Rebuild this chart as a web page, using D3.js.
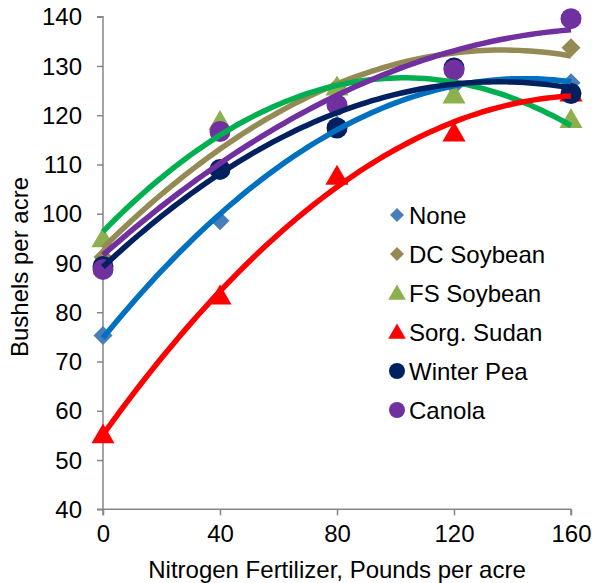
<!DOCTYPE html>
<html>
<head>
<meta charset="utf-8">
<script src="https://cdn.jsdelivr.net/npm/d3@7"></script>
<style>
html,body{margin:0;padding:0;background:#fff;}
svg{display:block;font-family:"Liberation Sans",Arial,sans-serif;}
</style>
</head>
<body>
<svg id="chart" width="592" height="583"></svg>
<script>
// ---- data ----
const nitrogen = [0, 40, 80, 120, 160];
const seriesNames = ["None", "DC Soybean", "FS Soybean", "Sorg. Sudan", "Winter Pea", "Canola"];
const noneVals       = [75.3, 98.6, 118.0, 126.0, 126.6];
const dcSoybeanVals  = [91.2, 117.0, 125.8, 129.5, 133.7];
const fsSoybeanVals  = [95.0, 118.8, 125.8, 124.2, 119.2];
const sorgSudanVals  = [55.2, 83.4, 107.7, 116.5, 124.6];
const winterPeaVals  = [89.3, 109.0, 117.4, 129.6, 124.4];
const canolaVals     = [88.7, 116.7, 122.1, 129.2, 139.6];
const yTicks = [40, 50, 60, 70, 80, 90, 100, 110, 120, 130, 140];
const xTicks = [0, 40, 80, 120, 160];

// ---- styles ----
const markerColors = ["#4A7EBB", "#948A54", "#8DB04F", "#FF0000", "#002060", "#7030A0"];
const lineColors   = ["#0070C0", "#948A54", "#00B050", "#FF0000", "#002060", "#7030A0"];
const markerShapes = ["diamond", "diamond", "triangle", "triangle", "circle", "circle"];
const allVals = [noneVals, dcSoybeanVals, fsSoybeanVals, sorgSudanVals, winterPeaVals, canolaVals];

const series = seriesNames.map((n, i) => ({
  name: n, values: allVals[i], mc: markerColors[i], lc: lineColors[i], shape: markerShapes[i]
}));

const svg = d3.select("#chart");
const x = d3.scaleLinear().domain([0, 160]).range([103, 571]);
const y = d3.scaleLinear().domain([40, 140]).range([509.3, 16.7]);
const FS = 24;

// axes
const yAxis = d3.axisLeft(y).tickValues(yTicks).tickSize(6).tickPadding(15).tickFormat(d3.format("d"));
const xAxis = d3.axisBottom(x).tickValues(xTicks).tickSize(6).tickPadding(10).tickFormat(d3.format("d"));
const gy = svg.append("g").attr("transform", `translate(${x(0)},0)`).call(yAxis);
const gx = svg.append("g").attr("transform", `translate(0,${y(40)})`).call(xAxis);
[gx, gy].forEach(g => {
  g.select(".domain").attr("stroke", "#868686").attr("stroke-width", 1.5);
  g.selectAll(".tick line").attr("stroke", "#868686").attr("stroke-width", 1.5);
  g.selectAll(".tick text").attr("fill", "#000").style("font-size", FS + "px").style("font-family", "Liberation Sans, Arial, sans-serif");
});
gy.selectAll(".tick text").attr("x", -21).attr("dy", "0.34em");
gx.selectAll(".tick text").attr("y", 16).attr("dy", "0.71em");
gy.select(".domain").attr("d", `M-6,${y(140)}H0V${y(40)}H-6`);
gx.select(".domain").attr("d", `M${x(0)},6V0H${x(160)}V6`);

// axis titles
svg.append("text").attr("x", 337).attr("y", 578).attr("text-anchor", "middle")
  .style("font-size", FS + "px").text("Nitrogen Fertilizer, Pounds per acre");
svg.append("text").attr("transform", "translate(28,267) rotate(-90)").attr("text-anchor", "middle")
  .style("font-size", FS + "px").text("Bushels per acre");

// marker generator
function markerPath(shape, s) {
  if (shape === "diamond") return `M0,${-s}L${s},0L0,${s}L${-s},0Z`;
  if (shape === "triangle") return `M0,${-s*1.05}L${s*1.1},${s*0.85}L${-s*1.1},${s*0.85}Z`;
  return d3.arc()({innerRadius: 0, outerRadius: s, startAngle: 0, endAngle: 2 * Math.PI});
}
const sizes = {diamond: 9.5, triangle: 10.5, circle: 10.5};

// markers
series.forEach(s => {
  svg.append("g").selectAll("path").data(nitrogen.map((n, i) => [n, s.values[i]])).join("path")
    .attr("transform", d => `translate(${x(d[0])},${y(d[1])})`)
    .attr("d", markerPath(s.shape, sizes[s.shape]))
    .attr("fill", s.mc);
});

// quadratic trendlines (least squares fit of each series)
function quadFit(xs, ys) {
  const n = xs.length;
  let S = [0,0,0,0,0], T = [0,0,0];
  for (let i = 0; i < n; i++) {
    const xi = xs[i];
    for (let k = 0; k < 5; k++) S[k] += Math.pow(xi, k);
    for (let k = 0; k < 3; k++) T[k] += ys[i] * Math.pow(xi, k);
  }
  const A = [[S[0],S[1],S[2],T[0]],[S[1],S[2],S[3],T[1]],[S[2],S[3],S[4],T[2]]];
  for (let i = 0; i < 3; i++) {
    for (let j = i + 1; j < 3; j++) {
      const f = A[j][i] / A[i][i];
      for (let k = i; k < 4; k++) A[j][k] -= f * A[i][k];
    }
  }
  const c = [0,0,0];
  for (let i = 2; i >= 0; i--) {
    let s = A[i][3];
    for (let k = i + 1; k < 3; k++) s -= A[i][k] * c[k];
    c[i] = s / A[i][i];
  }
  return t => c[0] + c[1] * t + c[2] * t * t;
}
const line = d3.line().x(d => x(d[0])).y(d => y(d[1])).curve(d3.curveLinear);
const samples = d3.range(0, 160.01, 2);
series.forEach(s => {
  const f = quadFit(nitrogen, s.values);
  svg.append("path").attr("d", line(samples.map(t => [t, f(t)])))
    .attr("fill", "none").attr("stroke", s.lc).attr("stroke-width", 5.5)
    .attr("stroke-linejoin", "round");
});

// legend
const lg = svg.append("g");
series.forEach((s, i) => {
  const yy = 215 + i * 39;
  const ms = s.shape === "diamond" ? 7 : 8;
  lg.append("path").attr("transform", `translate(397,${yy})`)
    .attr("d", markerPath(s.shape, ms)).attr("fill", s.mc);
  lg.append("text").attr("x", 409).attr("y", yy + 8.5).style("font-size", FS + "px").text(s.name);
});
</script>
</body>
</html>
